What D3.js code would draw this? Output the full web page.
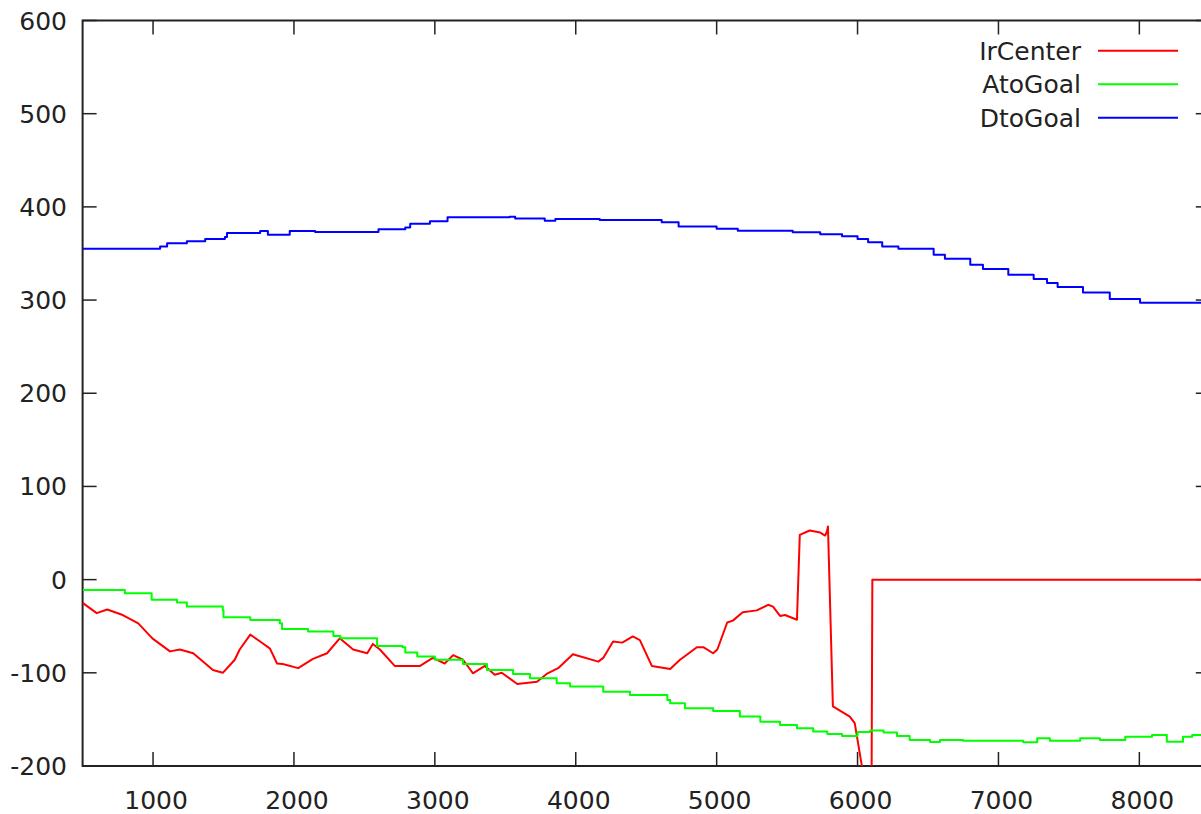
<!DOCTYPE html>
<html>
<head>
<meta charset="utf-8">
<script src="https://cdn.jsdelivr.net/npm/d3@7"></script>
<style>
  html, body { margin: 0; padding: 0; background: #fff; }
  svg { display: block; }
  text { font-family: "DejaVu Sans", sans-serif; fill: #222; }
</style>
</head>
<body>
<svg id="chart" width="1201" height="814"></svg>
<script>
// ---- data ----
const xTicks = [1000, 2000, 3000, 4000, 5000, 6000, 7000, 8000];
const yTicks = [-200, -100, 0, 100, 200, 300, 400, 500, 600];
const seriesNames = ["IrCenter", "AtoGoal", "DtoGoal"];
const seriesColors = ["#ff0000", "#00ff00", "#0000ff"];

const irCenter = [
  [500,-25],[600,-36],[675,-32],[785,-38],[895,-47],[995,-63],[1120,-77],[1190,-75],
  [1285,-79],[1425,-97],[1495,-100],[1580,-86],[1615,-75],[1690,-59],[1775,-68],[1830,-74],
  [1880,-90],[1920,-90.5],[2030,-95],[2135,-85],[2235,-79],[2325,-63],[2420,-75],[2520,-79],
  [2560,-69],[2610,-75],[2715,-92.6],[2895,-92.6],[2985,-84],[3070,-90],[3130,-81],[3200,-86],
  [3270,-100.5],[3355,-92.6],[3425,-102],[3475,-100],[3585,-112],[3725,-109.5],[3800,-100.5],
  [3875,-95],[3980,-80],[4160,-88],[4195,-84],[4265,-66.5],[4330,-67.6],[4405,-61],[4455,-65],
  [4540,-92.6],[4670,-96],[4740,-86],[4860,-72.5],[4905,-72.5],[4975,-79],[5005,-75],[5075,-46],
  [5115,-44],[5185,-35],[5285,-33],[5365,-27],[5400,-29],[5450,-39],[5485,-38],[5570,-43],
  [5590,48],[5660,52.7],[5735,50.5],[5770,47.3],[5783,51.6],[5790,57],[5825,-136],[5945,-147],
  [5980,-154],[6075,-240],[6095,-400],[6105,0],[8500,0]
];

const atoGoal = [
  [500,-11],[780,-11],[800,-14.6],[990,-21.7],[1170,-24.6],[1240,-28.9],[1495,-33],[1500,-40.3],
  [1690,-43.2],[1900,-46.8],[1915,-52.9],[2100,-55.7],[2280,-60.4],[2330,-62.9],[2590,-71.1],
  [2770,-72.5],[2790,-78.3],[2875,-82.6],[3000,-86],[3200,-90.5],[3370,-96.9],[3555,-101.2],
  [3675,-105.8],[3865,-111.2],[3960,-114.8],[4195,-120.2],[4385,-123.8],[4650,-129.1],
  [4670,-132.7],[4775,-138],[4975,-141],[5165,-147],[5310,-152.4],[5450,-156],[5570,-159.6],
  [5685,-163.1],[5785,-165.6],[5890,-167.8],[6000,-163.6],[6090,-162],[6185,-164],[6280,-167.8],
  [6370,-172],[6515,-174.2],[6585,-172],[6750,-172.8],[7175,-174.6],[7275,-170.3],[7365,-172.8],
  [7580,-170.3],[7720,-172],[7900,-168.5],[8090,-166.7],[8195,-173.9],[8310,-168.5],
  [8375,-166.7],[8500,-166.7]
];

const dtoGoal = [
  [500,355],[890,355],[1050,357.6],[1100,361],[1240,363],[1370,365.6],[1510,367.7],[1525,372],
  [1760,374],[1815,370],[1950,370],[1970,374],[2150,373],[2470,373],[2600,376],[2790,378],
  [2825,382],[2965,384.5],[3090,389],[3530,389.5],[3570,387.5],[3780,385],[3855,387],[4170,386],
  [4315,386],[4610,383.5],[4730,379],[5000,376.5],[5150,374.5],[5540,372.7],[5735,370.5],
  [5890,368.5],[6000,365.6],[6075,362],[6175,357.6],[6290,355],[6480,355],[6540,348.7],
  [6620,344.4],[6800,338],[6890,333.4],[7070,327.2],[7250,322.6],[7345,318.3],[7420,314],
  [7600,308.2],[7790,301.2],[8005,297],[8500,295]
];

// ---- layout ----
const svg = d3.select("#chart");
const pLeft = 82.6, pTop = 20.5, pBottom = 766, pRight = 1209.8;
const x = d3.scaleLinear().domain([500, 8500]).range([pLeft, pRight]);
const y = d3.scaleLinear().domain([-200, 600]).range([pBottom, pTop]);
const tickLen = 14;
const fontSize = 25;

svg.append("defs").append("clipPath").attr("id", "clip")
  .append("rect").attr("x", pLeft).attr("y", pTop)
  .attr("width", pRight - pLeft).attr("height", pBottom - pTop);

const axisColor = "#222";
const g = svg.append("g");

// ticks (inward, mirrored)
g.selectAll("line.yl").data(yTicks).join("line")
  .attr("x1", pLeft).attr("x2", pLeft + tickLen)
  .attr("y1", d => y(d)).attr("y2", d => y(d))
  .attr("stroke", axisColor).attr("stroke-width", 1.5);
g.selectAll("line.yr").data(yTicks).join("line")
  .attr("x1", pRight).attr("x2", pRight - tickLen)
  .attr("y1", d => y(d)).attr("y2", d => y(d))
  .attr("stroke", axisColor).attr("stroke-width", 1.5);
g.selectAll("line.xb").data(xTicks).join("line")
  .attr("x1", d => x(d)).attr("x2", d => x(d))
  .attr("y1", pBottom).attr("y2", pBottom - tickLen)
  .attr("stroke", axisColor).attr("stroke-width", 1.5);
g.selectAll("line.xt").data(xTicks).join("line")
  .attr("x1", d => x(d)).attr("x2", d => x(d))
  .attr("y1", pTop).attr("y2", pTop + tickLen)
  .attr("stroke", axisColor).attr("stroke-width", 1.5);

// border
g.append("rect").attr("x", pLeft).attr("y", pTop)
  .attr("width", pRight - pLeft).attr("height", pBottom - pTop)
  .attr("fill", "none").attr("stroke", axisColor).attr("stroke-width", 2);

// tick labels
g.selectAll("text.yt").data(yTicks).join("text")
  .attr("x", 67).attr("y", d => y(d)).attr("dy", "0.36em")
  .attr("text-anchor", "end").attr("font-size", fontSize)
  .text(d => d);
g.selectAll("text.xt").data(xTicks).join("text")
  .attr("x", d => x(d) + 3).attr("y", 809)
  .attr("text-anchor", "middle").attr("font-size", fontSize)
  .text(d => d);

// series
const lineLinear = d3.line().x(d => x(d[0])).y(d => y(d[1]));
const lineStep = d3.line().x(d => x(d[0])).y(d => y(d[1])).curve(d3.curveStepAfter);
const plot = svg.append("g").attr("clip-path", "url(#clip)");
const seriesData = [irCenter, atoGoal, dtoGoal];
const gens = [lineLinear, lineStep, lineStep];
seriesData.forEach((data, i) => {
  plot.append("path").datum(data)
    .attr("fill", "none").attr("stroke", seriesColors[i])
    .attr("stroke-width", 2).attr("stroke-linejoin", "round")
    .attr("d", gens[i]);
});

// legend
const legendY = [50.7, 84.2, 117.7];
seriesNames.forEach((name, i) => {
  svg.append("text").attr("x", 1081).attr("y", legendY[i]).attr("dy", "0.36em")
    .attr("text-anchor", "end").attr("font-size", fontSize).text(name);
  svg.append("line").attr("x1", 1098).attr("x2", 1178)
    .attr("y1", legendY[i]).attr("y2", legendY[i])
    .attr("stroke", seriesColors[i]).attr("stroke-width", 2);
});
</script>
</body>
</html>
